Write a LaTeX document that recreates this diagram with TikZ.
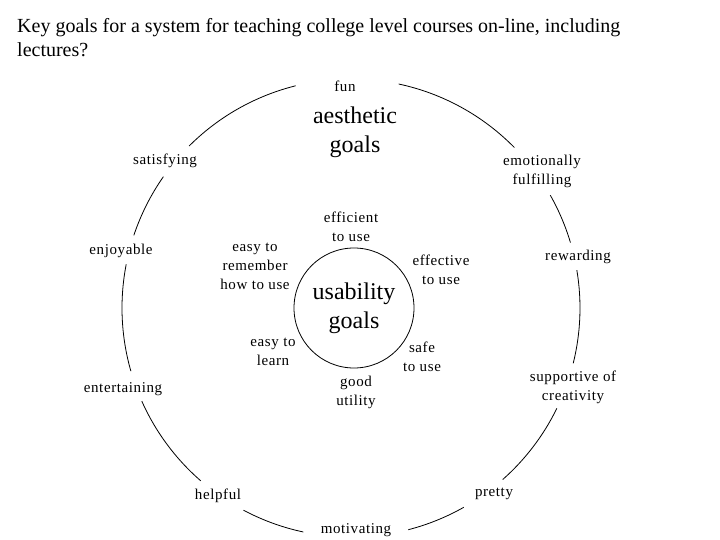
\documentclass[tikz,border=0pt]{standalone}
\usepackage{fontspec}
\setmainfont{Liberation Serif}
\newfontfamily\lblfont[LetterSpace=4]{Liberation Serif}
\usetikzlibrary{calc}
\tikzset{
  lbl/.style={font=\lblfont\fontsize{15bp}{19bp}\selectfont, align=center, inner sep=0pt},
  big/.style={font=\fontsize{24bp}{29bp}\selectfont, align=center, inner sep=0pt},
  ring/.style={draw=black, line width=0.8bp},
}
\begin{document}
\begin{tikzpicture}[x=1bp,y=1bp]
\useasboundingbox (0,0) rectangle (720,-540);
\fill[white] (0,0) rectangle (720,-540);
% title
\node[anchor=base west, align=left, inner sep=0pt, font=\fontsize{20bp}{24bp}\selectfont] (title) at (17,-57)
  {Key goals for a system for teaching college level courses on-line, including\\lectures?};
% outer labels
\node[lbl] (fun) at (345,-86) {fun};
\node[big] (aesthetic) at (355,-132.5) {aesthetic\\goals};
\node[lbl] (satisfying) at (165,-161) {satisfying};
\node[lbl] (emotionally) at (542,-171) {emotionally\\fulfilling};
\node[lbl] (enjoyable) at (121,-251) {enjoyable};
\node[lbl] (rewarding) at (578,-257) {rewarding};
\node[lbl] (entertaining) at (123,-389) {entertaining};
\node[lbl] (supportive) at (573,-387.5) {supportive of\\creativity};
\node[lbl] (helpful) at (218,-496) {helpful};
\node[lbl] (pretty) at (494,-494) {pretty};
\node[lbl] (motivating) at (356,-530) {motivating};
% inner
\node[big, circle, draw, line width=0.8bp, minimum size=120bp] (usability) at (354,-308) {usability\\goals};
\node[lbl] (efficient) at (351,-227) {efficient\\to use};
\node[lbl] (remember) at (255,-266) {easy to\\remember\\how to use};
\node[lbl] (effective) at (441,-269.5) {effective\\to use};
\node[lbl] (learn) at (273,-351.5) {easy to\\learn};
\node[lbl] (safe) at (422,-356.5) {safe\\to use};
\node[lbl] (utility) at (356,-392.5) {good\\utility};
% outer ring arcs
\coordinate (O) at (351,-308);
\foreach \a/\b in {104/135, 44.5/78, 145/161.5, 169/196, 204/229, 242/258, 284.5/299.5, 311.5/334, 346/369.5, 16.6/29.5}{
  \draw[ring] ($(O)+(\a:229)$) arc[start angle=\a, end angle=\b, radius=229];
}
\end{tikzpicture}
\end{document}
